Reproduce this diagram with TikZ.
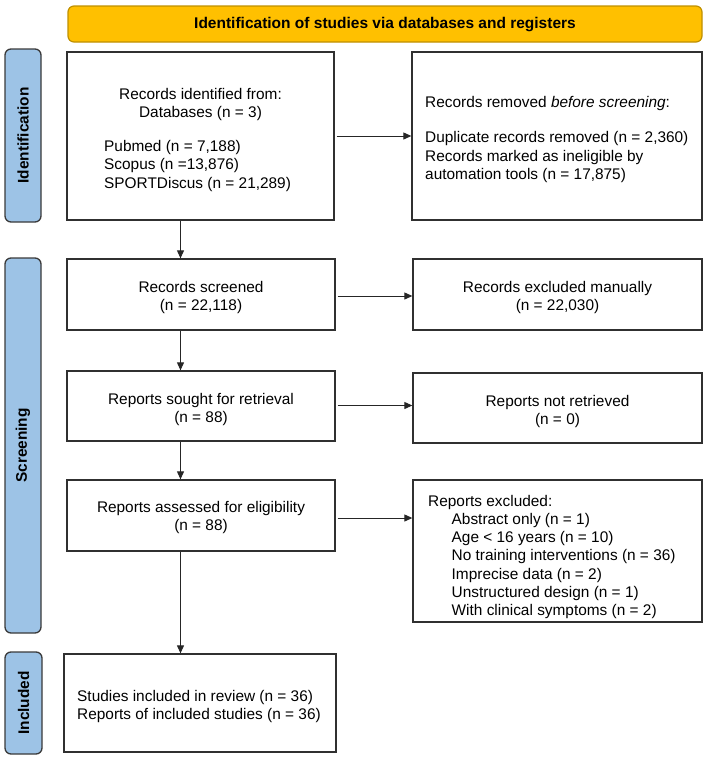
\documentclass[tikz,border=0pt]{standalone}
\usepackage{fontspec}
\setmainfont{Liberation Sans}
\usetikzlibrary{arrows.meta}
\definecolor{bannerfill}{HTML}{FFC000}
\definecolor{bannerdraw}{HTML}{BF9000}
\definecolor{sidefill}{HTML}{9DC3E6}
\definecolor{sidedraw}{HTML}{3A3A3A}
\definecolor{boxdraw}{HTML}{303030}
\begin{document}
\begin{tikzpicture}[x=1pt,y=-1pt,
  every node/.style={font=\fontsize{15.4}{18.3}\selectfont},
  flowbox/.style={draw=boxdraw,line width=1.3pt,fill=white,inner sep=0pt,rectangle},
  sidebox/.style={draw=sidedraw,line width=1.3pt,fill=sidefill,rounded corners=6pt,inner sep=0pt,minimum width=36pt},
  sidetext/.style={rotate=90,font=\fontsize{15.4}{18.3}\selectfont\bfseries,inner sep=0pt},
  txt/.style={inner sep=0pt,anchor=base},
  txtl/.style={inner sep=0pt,anchor=base west},
  arr/.style={line width=1pt,draw=black!85,-{Triangle[length=8pt,width=7pt]}}]
\useasboundingbox (0,0) rectangle (709,758);
% banner
\node[draw=bannerdraw,line width=1.2pt,fill=bannerfill,rounded corners=6pt,minimum width=634pt,minimum height=36pt,inner sep=0pt] (banner) at (385,24) {};
\node[inner sep=0pt,font=\fontsize{15.5}{18}\selectfont\bfseries] (bannertext) at (385,24.5) {Identification of studies via databases and registers};
% side labels
\node[sidebox,minimum height=173pt] (sid) at (23,135.5) {};
\node[sidetext] (sidt) at (23,135.5) {Identification};
\node[sidebox,minimum height=375pt] (ssc) at (23,445.5) {};
\node[sidetext] (ssct) at (23,445.5) {Screening};
\node[sidebox,minimum height=102pt,minimum width=37pt] (sin) at (23.5,703) {};
\node[sidetext] (sint) at (23.5,703) {Included};
% boxes
\node[flowbox,minimum width=267pt,minimum height=168pt] (b1) at (200.5,136) {};
\node[flowbox,minimum width=290pt,minimum height=168pt] (r1) at (557,136) {};
\node[flowbox,minimum width=268pt,minimum height=71pt] (b2) at (201,294.5) {};
\node[flowbox,minimum width=289pt,minimum height=71pt] (r2) at (557.5,294.5) {};
\node[flowbox,minimum width=268pt,minimum height=70pt] (b3) at (201,406) {};
\node[flowbox,minimum width=289pt,minimum height=70pt] (r3) at (557.5,408) {};
\node[flowbox,minimum width=268pt,minimum height=71pt] (b4) at (201,515.5) {};
\node[flowbox,minimum width=289pt,minimum height=142pt] (r4) at (557.5,551) {};
\node[flowbox,minimum width=272pt,minimum height=98pt] (b5) at (200,703) {};
% texts box 1
\node[txt] (t1a) at (200.5,99) {Records identified from:};
\node[txt] (t1b) at (200.5,117.5) {Databases (n = 3)};
\node[txtl] (t1c) at (104,151) {Pubmed (n = 7,188)};
\node[txtl] (t1d) at (104,169.5) {Scopus (n =13,876)};
\node[txtl] (t1e) at (104,188) {SPORTDiscus (n = 21,289)};
% texts right 1
\node[txtl] (u1a) at (425,107.5) {Records removed \textit{before screening}:};
\node[txtl] (u1b) at (425,142.5) {Duplicate records removed (n = 2,360)};
\node[txtl] (u1c) at (425,161) {Records marked as ineligible by};
\node[txtl] (u1d) at (425,179.3) {automation tools (n = 17,875)};
% box 2
\node[txt] (t2a) at (201,292.5) {Records screened};
\node[txt] (t2b) at (201,310.8) {(n = 22,118)};
\node[txt] (u2a) at (557.5,292.5) {Records excluded manually};
\node[txt] (u2b) at (557.5,310.8) {(n = 22,030)};
% box 3
\node[txt] (t3a) at (201,404) {Reports sought for retrieval};
\node[txt] (t3b) at (201,422.3) {(n = 88)};
\node[txt] (u3a) at (557.5,406) {Reports not retrieved};
\node[txt] (u3b) at (557.5,424.3) {(n = 0)};
% box 4
\node[txt] (t4a) at (201,512.5) {Reports assessed for eligibility};
\node[txt] (t4b) at (201,530.8) {(n = 88)};
\node[txtl] (u4a) at (428,506) {Reports excluded:};
\node[txtl] (u4b) at (451.5,524.3) {Abstract only (n = 1)};
\node[txtl] (u4c) at (451.5,542.6) {Age < 16 years (n = 10)};
\node[txtl] (u4d) at (451.5,560.9) {No training interventions (n = 36)};
\node[txtl] (u4e) at (451.5,579.2) {Imprecise data (n = 2)};
\node[txtl] (u4f) at (451.5,597.5) {Unstructured design (n = 1)};
\node[txtl] (u4g) at (451.5,615.8) {With clinical symptoms (n = 2)};
% box 5
\node[txtl] (t5a) at (77,701) {Studies included in review (n = 36)};
\node[txtl] (t5b) at (77,719.3) {Reports of included studies (n = 36)};
% arrows
\coordinate (colx) at (180.5,0);
\draw[arr] (b1.south -| colx) -- (b2.north -| colx);
\draw[arr] (b2.south -| colx) -- (b3.north -| colx);
\draw[arr] (b3.south -| colx) -- (b4.north -| colx);
\draw[arr] (b4.south -| colx) -- (b5.north -| colx);
\draw[arr,shorten <=2pt] (b1.east) -- (b1.east -| r1.west);
\draw[arr,shorten <=2pt] ([yshift=-1.5pt]b2.east) -- ([yshift=-1.5pt]b2.east -| r2.west);
\draw[arr,shorten <=2pt] ([yshift=0.5pt]b3.east) -- ([yshift=0.5pt]b3.east -| r3.west);
\draw[arr,shorten <=2pt] ([yshift=-2.5pt]b4.east) -- ([yshift=-2.5pt]b4.east -| r4.west);
\end{tikzpicture}
\end{document}
